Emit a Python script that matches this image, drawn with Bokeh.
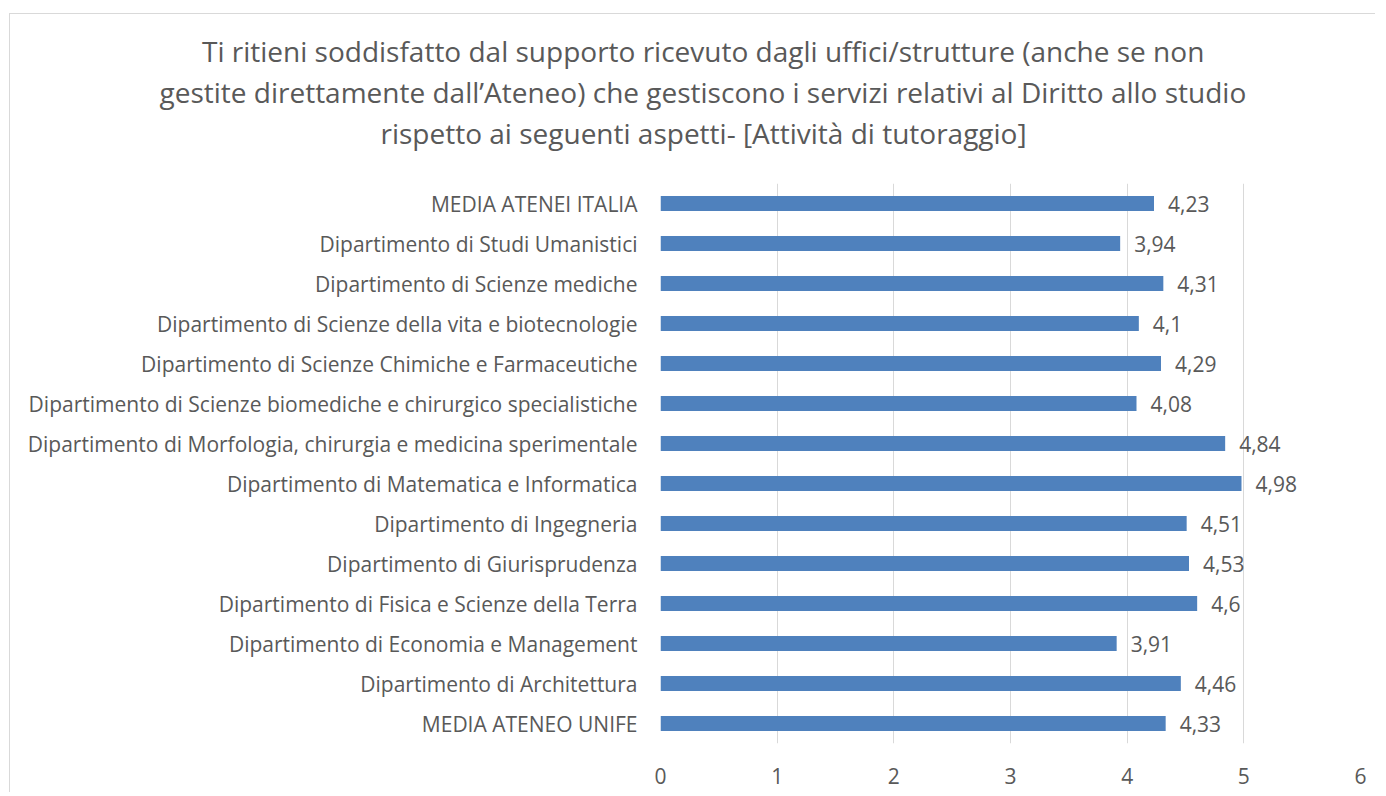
from bokeh.plotting import figure
from bokeh.models import ColumnDataSource, FactorRange, FixedTicker, Title
from bokeh.core.properties import value
from bokeh.embed import file_html
from bokeh.resources import INLINE

title_lines = [
    "Ti ritieni soddisfatto dal supporto ricevuto dagli uffici/strutture (anche se non",
    "gestite direttamente dall\u2019Ateneo) che gestiscono i servizi relativi al Diritto allo studio",
    "rispetto ai seguenti aspetti- [Attivit\u00e0 di tutoraggio]",
]

# categories from top to bottom as in the reference
categories = [
    "MEDIA ATENEI ITALIA",
    "Dipartimento di Studi Umanistici",
    "Dipartimento di Scienze mediche",
    "Dipartimento di Scienze della vita e biotecnologie",
    "Dipartimento di Scienze Chimiche e Farmaceutiche",
    "Dipartimento di Scienze biomediche e chirurgico specialistiche",
    "Dipartimento di Morfologia, chirurgia e medicina sperimentale",
    "Dipartimento di Matematica e Informatica",
    "Dipartimento di Ingegneria",
    "Dipartimento di Giurisprudenza",
    "Dipartimento di Fisica e Scienze della Terra",
    "Dipartimento di Economia e Management",
    "Dipartimento di Architettura",
    "MEDIA ATENEO UNIFE",
]
values = [4.23, 3.94, 4.31, 4.1, 4.29, 4.08, 4.84, 4.98, 4.51, 4.53, 4.6, 3.91, 4.46, 4.33]
x_ticks = [0, 1, 2, 3, 4, 5, 6]

labels = [str(v).replace(".", ",") for v in values]

TEXT = "#595959"
FONT = "Open Sans"
BORDER = "#D9D9D9"

src = ColumnDataSource(dict(cat=categories, val=values, lab=labels))

p = figure(
    width=1366, height=779,
    y_range=FactorRange(factors=list(reversed(categories))),
    x_range=(0, 6),
    output_backend="svg", toolbar_location=None,
    min_border_left=650, min_border_right=16,
    min_border_top=169, min_border_bottom=50,
)
p.title.visible = False
p.outline_line_color = None
p.styles = {"margin-left": "9px", "margin-top": "13px",
            "border-left": "1px solid #D9D9D9", "border-top": "1px solid #D9D9D9"}

p.hbar(y="cat", right="val", left=0, height=0.37, source=src,
       fill_color="#4F81BD", line_color=None)
p.text(x="val", y="cat", text="lab", source=src, x_offset=14,
       text_baseline="middle", text_align="left",
       text_font=value(FONT), text_font_size="21px", text_color=TEXT)

p.xgrid.grid_line_color = BORDER
p.xgrid.grid_line_width = 1
p.ygrid.grid_line_color = None
p.xaxis.ticker = FixedTicker(ticks=x_ticks)

for ax in (p.xaxis[0], p.yaxis[0]):
    ax.axis_line_color = None
    ax.major_tick_line_color = None
    ax.minor_tick_line_color = None
    ax.major_label_text_font = FONT
    ax.major_label_text_color = TEXT
p.xaxis.major_label_text_font_size = "21px"
p.yaxis.major_label_text_font_size = "21px"
p.xaxis.major_label_standoff = 18
p.yaxis.major_label_standoff = 17

# spacer between the plot area and the title block
p.add_layout(Title(text=" ", text_font_size="1px", standoff=28), "above")

# title lines, stacked above the plot area (added from the bottom line upwards)
widths = [1001, 1086, 644]
for line, w in reversed(list(zip(title_lines, widths))):
    p.add_layout(Title(text=line, align="left", offset=702 - w / 2 - 660,
                       standoff=1, text_font=FONT, text_font_size="28px",
                       text_font_style="normal", text_color=TEXT), "above")

open("out.html", "w").write(file_html(p, INLINE))
